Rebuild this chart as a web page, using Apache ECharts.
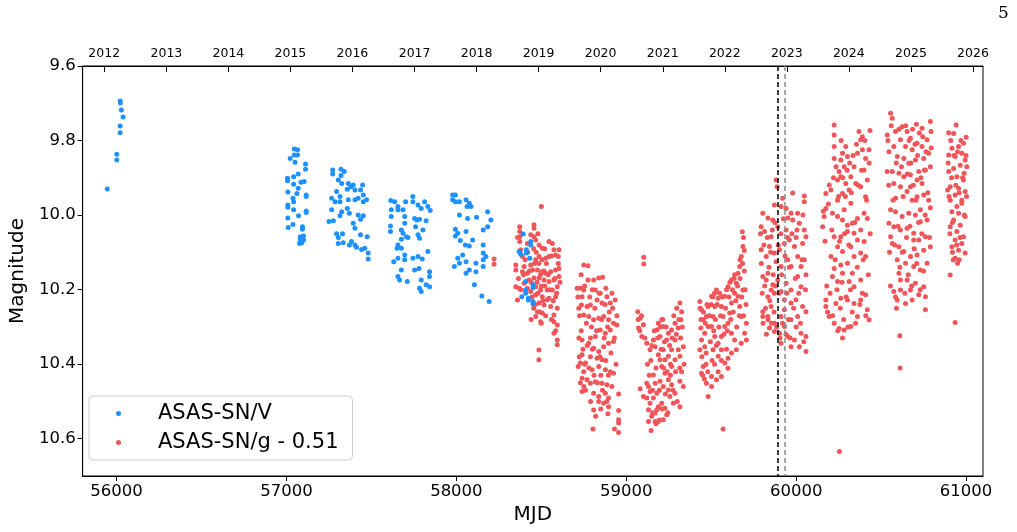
<!DOCTYPE html>
<html lang="en">
<head>
    <meta charset="UTF-8">
    <title>ASAS-SN light curve</title>
    <script type="text/javascript" src="https://cdn.jsdelivr.net/npm/echarts@6/dist/echarts.min.js"></script>
    <style>
        body { margin: 0; background: #fff; }
        #main { width: 1017px; height: 532px; }
    </style>
</head>
<body>
    <div id="main"></div>
</body>

<script type="text/javascript">
    // tick labels
    var mjdTicks = [56000, 57000, 58000, 59000, 60000, 61000];
    var magTicks = [9.6, 9.8, 10.0, 10.2, 10.4, 10.6];
    var yearLabels = ['2012', '2013', '2014', '2015', '2016', '2017', '2018', '2019', '2020', '2021', '2022', '2023', '2024', '2025', '2026'];
    var yearMjd = [55927, 56293, 56658, 57023, 57388, 57754, 58119, 58484, 58849, 59215, 59580, 59945, 60310, 60676, 61041];
    var eventLines = [59890, 59932];

    // ASAS-SN V band, one list per season  [MJD, mag]
    var vS2012 = [[55945,9.93],[56021,9.694],[56022,9.699],[56028,9.718],[56038,9.737],[56021,9.761],[56021,9.779],[56001,9.837],[56001,9.852]];
    var vS2015 = [[57046,9.823],[57065,9.825],[57046,9.839],[57065,9.839],[57022,9.848],[57050,9.858],[57112,9.863],[57112,9.877],[57006,9.901],[57006,9.908],[57042,9.897],[57069,9.89],[57085,9.912],[57104,9.91],[57042,9.917],[57069,9.928],[57061,9.942],[57116,9.946],[57116,9.95],[57008,9.938],[57038,9.955],[57042,9.964],[57008,9.973],[57008,9.979],[57042,9.986],[57071,10.002],[57116,9.989],[57116,9.993],[57008,10.008],[57038,10.025],[57094,10.031],[57094,10.038],[57010,10.033],[57081,10.058],[57100,10.056],[57081,10.067],[57100,10.067],[57077,10.076],[57090,10.074]];
    var vS2016 = [[57272,9.879],[57272,9.89],[57321,9.877],[57340,9.883],[57321,9.894],[57305,9.906],[57325,9.915],[57364,9.915],[57379,9.924],[57393,9.919],[57448,9.919],[57436,9.933],[57358,9.931],[57403,9.933],[57452,9.946],[57471,9.959],[57295,9.937],[57315,9.95],[57315,9.964],[57266,9.955],[57286,9.964],[57364,9.959],[57403,9.959],[57422,9.955],[57452,9.964],[57358,9.982],[57370,9.995],[57422,10.0],[57452,10.002],[57436,10.011],[57325,9.991],[57315,10.002],[57266,9.986],[57250,10.017],[57276,10.015],[57393,10.022],[57403,10.035],[57436,10.053],[57475,10.058],[57295,10.05],[57305,10.06],[57330,10.05],[57334,10.074],[57305,10.076],[57383,10.071],[57403,10.08],[57412,10.086],[57442,10.092],[57461,10.089],[57481,10.102],[57481,10.118],[57370,10.08]];
    var vS2017 = [[57614,9.961],[57637,9.964],[57656,9.977],[57656,9.986],[57701,9.964],[57744,9.95],[57744,9.964],[57774,9.973],[57793,9.982],[57813,9.964],[57832,9.977],[57846,9.988],[57617,9.986],[57617,10.004],[57612,10.029],[57612,10.044],[57686,9.986],[57696,10.004],[57696,10.022],[57676,10.04],[57686,10.049],[57676,10.065],[57705,10.058],[57715,10.06],[57754,10.009],[57768,10.013],[57783,10.011],[57822,10.015],[57760,10.031],[57803,10.04],[57774,10.053],[57783,10.062],[57656,10.08],[57676,10.089],[57651,10.089],[57631,10.125],[57656,10.116],[57696,10.107],[57696,10.12],[57744,10.116],[57774,10.111],[57832,10.098],[57799,10.118],[57780,10.143],[57754,10.147],[57676,10.147],[57656,10.165],[57666,10.174],[57711,10.178],[57793,10.174],[57842,10.152],[57842,10.165],[57822,10.187],[57842,10.192],[57783,10.196],[57793,10.205]];
    var vS2018 = [[57978,9.946],[57994,9.946],[57978,9.959],[57994,9.964],[58018,9.964],[58057,9.959],[58076,9.968],[58086,9.977],[58063,9.977],[58018,10.0],[58066,10.009],[58119,10.006],[58184,9.991],[58203,10.013],[58184,10.031],[58158,10.04],[57994,10.038],[58008,10.049],[57994,10.056],[58057,10.044],[58096,10.067],[58023,10.068],[58053,10.08],[58076,10.083],[58008,10.116],[58037,10.107],[58018,10.129],[57988,10.138],[58057,10.125],[58057,10.156],[58076,10.147],[58115,10.129],[58115,10.152],[58158,10.08],[58158,10.102],[58158,10.12],[58174,10.111],[58158,10.138],[58106,10.187],[58150,10.217],[58193,10.232]];
    var vS2019 = [[58393,10.051],[58369,10.098],[58379,10.105],[58412,10.093],[58412,10.102],[58438,10.071],[58438,10.08],[58432,10.116],[58408,10.178],[58451,10.187],[58451,10.194],[58408,10.201],[58408,10.21],[58385,10.219],[58424,10.223],[58424,10.228],[58451,10.232],[58451,10.238]];

    // ASAS-SN g band shifted by -0.51, one list per season  [MJD, mag]
    var gS2018 = [[58222,10.118],[58222,10.132]];
    var gS2019 = [[58373,10.031],[58373,10.044],[58373,10.058],[58373,10.071],[58457,10.026],[58457,10.035],[58438,10.053],[58457,10.058],[58467,10.067],[58418,10.076],[58487,10.08],[58506,10.089],[58545,10.071],[58565,10.076],[58574,10.093],[58604,10.093],[58600,10.111],[58584,10.107],[58545,10.111],[58526,10.116],[58487,10.111],[58467,10.12],[58438,10.134],[58399,10.138],[58350,10.134],[58350,10.147],[58389,10.152],[58418,10.156],[58448,10.147],[58477,10.147],[58502,10.152],[58526,10.156],[58555,10.152],[58584,10.147],[58604,10.143],[58604,10.165],[58574,10.174],[58545,10.178],[58516,10.174],[58487,10.169],[58457,10.169],[58428,10.174],[58399,10.183],[58350,10.192],[58370,10.196],[58418,10.196],[58467,10.192],[58496,10.201],[58535,10.201],[58565,10.201],[58594,10.192],[58584,10.219],[58545,10.223],[58506,10.219],[58467,10.214],[58438,10.205],[58360,10.228],[58487,10.236],[58516,10.241],[58555,10.245],[58594,10.25],[58477,10.259],[58506,10.263],[58467,10.272],[58496,10.286],[58574,10.268],[58574,10.286],[58594,10.295],[58574,10.317],[58594,10.335],[58594,10.348],[58535,10.227],[58389,10.111],[58379,10.093],[58500,9.977],[58486,10.362],[58486,10.388],
        [58360,10.06],[58365,10.17],[58380,10.20],[58395,10.16],[58405,10.12],[58420,10.10],[58430,10.15],[58440,10.18],[58445,10.22],[58455,10.09],[58460,10.13],[58465,10.24],[58470,10.10],[58475,10.18],[58480,10.21],[58485,10.13],[58490,10.26],[58495,10.16],[58500,10.19],[58505,10.12],[58510,10.23],[58515,10.15],[58520,10.19],[58525,10.27],[58530,10.13],[58540,10.16],[58550,10.20],[58560,10.11],[58570,10.23],[58580,10.17],[58590,10.21],[58600,10.13],[58610,10.18],[58520,10.09],[58480,10.05],[58455,10.25],[58440,10.28],[58500,10.29],[58560,10.28],[58585,10.31]];
    var gS2020 = [[58750,10.134],[58775,10.136],[58734,10.16],[58711,10.196],[58730,10.196],[58750,10.201],[58740,10.219],[58775,10.174],[58808,10.174],[58838,10.169],[58861,10.167],[58880,10.196],[58818,10.201],[58847,10.21],[58886,10.219],[58916,10.21],[58935,10.228],[58906,10.236],[58857,10.236],[58828,10.228],[58789,10.241],[58769,10.245],[58736,10.241],[58721,10.25],[58750,10.268],[58779,10.272],[58808,10.281],[58838,10.277],[58867,10.272],[58896,10.281],[58925,10.29],[58945,10.295],[58906,10.308],[58877,10.317],[58847,10.308],[58818,10.326],[58789,10.33],[58740,10.335],[58721,10.33],[58779,10.344],[58808,10.357],[58838,10.366],[58867,10.353],[58896,10.344],[58925,10.339],[58857,10.388],[58828,10.384],[58789,10.38],[58740,10.375],[58730,10.397],[58760,10.397],[58799,10.415],[58838,10.406],[58877,10.415],[58906,10.42],[58925,10.424],[58750,10.42],[58740,10.438],[58769,10.442],[58750,10.46],[58740,10.473],[58789,10.451],[58818,10.447],[58857,10.451],[58886,10.455],[58808,10.478],[58838,10.487],[58877,10.478],[58896,10.491],[58838,10.5],[58867,10.505],[58896,10.514],[58808,10.523],[58892,10.533],[58955,10.48],[58955,10.524],[58955,10.549],[58955,10.558],[58931,10.574],[58955,10.583],[58804,10.574],[58724,10.38],[58717,10.406],
        [58715,10.22],[58725,10.27],[58735,10.31],[58745,10.36],[58755,10.40],[58765,10.29],[58770,10.35],[58780,10.41],[58785,10.22],[58795,10.30],[58800,10.36],[58810,10.43],[58815,10.25],[58825,10.31],[58830,10.45],[58840,10.21],[58845,10.38],[58850,10.43],[58855,10.28],[58860,10.47],[58870,10.33],[58875,10.24],[58880,10.39],[58885,10.50],[58890,10.30],[58895,10.43],[58900,10.26],[58910,10.37],[58915,10.46],[58920,10.25],[58930,10.33],[58940,10.40],[58945,10.27],[58760,10.47],[58790,10.50],[58820,10.54],[58850,10.52],[58730,10.45],[58755,10.19],[58800,10.20]];
    var gS2021 = [[59103,10.113],[59103,10.131],[59068,10.259],[59082,10.277],[59072,10.303],[59101,10.294],[59092,10.326],[59121,10.344],[59140,10.361],[59160,10.335],[59180,10.308],[59189,10.29],[59209,10.281],[59218,10.299],[59199,10.326],[59170,10.353],[59189,10.375],[59218,10.361],[59238,10.335],[59248,10.317],[59267,10.308],[59287,10.29],[59297,10.25],[59316,10.236],[59326,10.259],[59322,10.281],[59306,10.303],[59287,10.335],[59267,10.361],[59248,10.379],[59228,10.388],[59209,10.406],[59228,10.424],[59248,10.442],[59218,10.46],[59199,10.446],[59180,10.478],[59160,10.491],[59140,10.505],[59131,10.522],[59150,10.54],[59170,10.531],[59189,10.514],[59209,10.505],[59228,10.518],[59238,10.536],[59218,10.549],[59189,10.554],[59170,10.554],[59131,10.554],[59146,10.578],[59082,10.466],[59121,10.451],[59170,10.451],[59267,10.455],[59287,10.478],[59316,10.446],[59336,10.46],[59316,10.514],[59277,10.505],[59257,10.487],[59248,10.469],[59326,10.42],[59287,10.388],[59316,10.379],[59336,10.353],[59306,10.361],[59267,10.406],[59199,10.388],[59160,10.429],[59131,10.46],[59101,10.487],[59121,10.491],[59180,10.522],[59140,10.473],
        [59070,10.28],[59080,10.31],[59090,10.27],[59110,10.33],[59125,10.40],[59135,10.43],[59145,10.39],[59150,10.35],[59155,10.47],[59165,10.31],[59175,10.41],[59185,10.33],[59195,10.47],[59200,10.30],[59205,10.36],[59210,10.52],[59215,10.28],[59220,10.41],[59225,10.34],[59230,10.48],[59235,10.30],[59240,10.42],[59245,10.53],[59255,10.35],[59260,10.43],[59270,10.33],[59275,10.47],[59280,10.27],[59290,10.42],[59295,10.32],[59300,10.50],[59310,10.28],[59315,10.41],[59320,10.33],[59330,10.30],[59340,10.40],[59155,10.53],[59175,10.56],[59195,10.55],[59260,10.40]];
    var gS2022 = [[59433,10.232],[59443,10.254],[59453,10.281],[59439,10.303],[59462,10.317],[59482,10.299],[59472,10.272],[59482,10.245],[59502,10.218],[59531,10.201],[59541,10.223],[59521,10.245],[59511,10.272],[59502,10.299],[59521,10.326],[59541,10.344],[59560,10.326],[59580,10.299],[59570,10.272],[59560,10.245],[59580,10.218],[59599,10.192],[59619,10.174],[59638,10.16],[59658,10.156],[59668,10.138],[59677,10.111],[59687,10.084],[59648,10.183],[59638,10.21],[59619,10.236],[59609,10.263],[59599,10.29],[59619,10.317],[59638,10.335],[59648,10.361],[59677,10.344],[59697,10.317],[59707,10.29],[59707,10.335],[59677,10.272],[59668,10.245],[59658,10.218],[59687,10.201],[59560,10.361],[59541,10.379],[59580,10.397],[59599,10.411],[59560,10.433],[59531,10.442],[59502,10.46],[59472,10.451],[59443,10.424],[59453,10.406],[59482,10.487],[59502,10.433],[59541,10.42],[59619,10.37],[59599,10.384],[59462,10.353],[59511,10.361],[59433,10.361],[59443,10.335],[59570,10.574],[59683,10.045],[59690,10.06],[59695,10.095],
        [59435,10.25],[59440,10.28],[59445,10.38],[59450,10.43],[59455,10.26],[59460,10.44],[59465,10.29],[59470,10.37],[59475,10.24],[59480,10.42],[59490,10.27],[59495,10.34],[59500,10.24],[59505,10.39],[59510,10.22],[59515,10.31],[59520,10.21],[59525,10.28],[59530,10.35],[59535,10.24],[59545,10.30],[59550,10.21],[59555,10.27],[59565,10.22],[59575,10.32],[59585,10.25],[59590,10.20],[59595,10.31],[59605,10.22],[59610,10.18],[59615,10.28],[59625,10.20],[59630,10.26],[59635,10.17],[59645,10.23],[59650,10.30],[59655,10.19],[59665,10.27],[59670,10.17],[59680,10.22],[59685,10.13],[59690,10.27],[59700,10.20],[59705,10.24],[59695,10.15],[59670,10.12],[59470,10.40],[59520,10.40],[59560,10.39],[59590,10.36]];
    var gS2023 = [[59882,9.906],[59888,9.924],[59980,9.941],[60048,9.949],[60048,9.964],[59872,9.973],[59911,9.977],[59941,9.982],[59970,9.995],[60009,9.995],[59951,10.008],[59980,10.013],[60019,10.022],[60048,10.04],[60058,10.058],[60038,10.076],[59804,9.995],[59834,10.008],[59794,10.031],[59814,10.044],[59853,10.058],[59843,10.084],[59794,10.093],[59824,10.111],[59872,10.102],[59902,10.093],[59931,10.076],[59960,10.067],[59990,10.084],[60009,10.111],[60048,10.12],[60029,10.138],[60058,10.16],[60009,10.165],[59970,10.138],[59951,10.12],[59911,10.138],[59882,10.125],[59834,10.156],[59804,10.165],[59824,10.174],[59863,10.187],[59892,10.174],[59941,10.183],[59970,10.201],[60029,10.192],[59872,10.21],[59834,10.219],[59853,10.245],[59804,10.259],[59834,10.272],[59872,10.29],[59911,10.272],[59931,10.254],[59970,10.236],[59999,10.227],[60038,10.245],[60058,10.259],[60009,10.272],[59970,10.281],[59931,10.299],[59902,10.317],[59951,10.326],[59990,10.335],[60029,10.317],[60058,10.326],[60019,10.353],[60058,10.366],[59970,10.353],[59911,10.344],[59872,10.312],[59843,10.303],[59834,10.281],[59804,10.272],[59931,10.227],[59911,10.205],[59853,10.201],[59941,10.04],[59892,10.031],[59863,10.013],[59921,9.955],
        [59790,10.05],[59795,10.13],[59800,10.21],[59805,10.29],[59810,10.08],[59815,10.19],[59820,10.25],[59825,10.32],[59830,10.06],[59840,10.14],[59845,10.23],[59850,10.10],[59855,10.29],[59860,10.04],[59865,10.16],[59870,10.26],[59875,10.02],[59880,10.19],[59885,10.30],[59895,10.08],[59900,10.21],[59905,10.33],[59910,10.05],[59915,10.16],[59920,10.29],[59925,10.01],[59935,10.11],[59940,10.32],[59945,10.21],[59950,10.06],[59955,10.28],[59960,10.14],[59965,10.33],[59975,10.05],[59985,10.25],[59995,10.17],[60000,10.30],[60005,10.04],[60015,10.21],[60025,10.29],[60035,10.12],[60045,10.34],[60055,10.20],[60040,10.00],[60000,10.06]];
    var gS2024 = [[60224,9.758],[60224,9.785],[60224,9.816],[60224,9.848],[60273,9.834],[60302,9.843],[60283,9.87],[60253,9.883],[60244,9.906],[60263,9.897],[60292,9.915],[60322,9.897],[60341,9.87],[60361,9.834],[60380,9.798],[60390,9.825],[60370,9.776],[60435,9.773],[60429,9.825],[60409,9.848],[60400,9.879],[60419,9.906],[60380,9.924],[60351,9.915],[60312,9.933],[60273,9.942],[60244,9.96],[60205,9.933],[60175,9.942],[60165,10.004],[60175,9.982],[60214,9.995],[60244,10.004],[60273,10.013],[60302,10.027],[60331,10.022],[60361,10.009],[60400,9.995],[60419,10.009],[60380,10.04],[60341,10.049],[60302,10.044],[60263,10.058],[60224,10.058],[60205,10.111],[60244,10.085],[60273,10.098],[60322,10.085],[60361,10.067],[60400,10.071],[60380,10.102],[60341,10.111],[60302,10.129],[60263,10.134],[60224,10.143],[60214,10.165],[60244,10.178],[60273,10.156],[60312,10.178],[60341,10.192],[60380,10.174],[60409,10.214],[60380,10.228],[60341,10.237],[60302,10.228],[60263,10.223],[60234,10.237],[60175,10.228],[60175,10.245],[60195,10.272],[60224,10.29],[60253,10.304],[60283,10.308],[60322,10.299],[60361,10.272],[60419,10.254],[60429,10.281],[60273,10.33],[60390,10.21],[60331,10.156],[60283,9.986],[60322,9.968],[60195,9.919],[60156,10.031],[60409,9.951],[60409,10.111],[60390,9.79],[60263,9.852],[60292,9.816],[60255,10.634],
        [60160,9.99],[60170,10.07],[60180,10.19],[60185,10.26],[60190,9.97],[60200,10.21],[60210,10.04],[60215,10.27],[60220,9.90],[60230,10.12],[60235,9.87],[60240,10.20],[60245,10.31],[60250,9.95],[60255,10.07],[60260,10.25],[60265,9.80],[60270,10.18],[60275,9.90],[60280,10.28],[60285,10.05],[60290,9.95],[60295,10.22],[60300,9.88],[60305,10.30],[60310,10.08],[60315,9.86],[60320,10.20],[60325,9.94],[60330,10.26],[60335,9.84],[60345,10.02],[60350,10.29],[60355,9.81],[60360,10.14],[60365,9.92],[60375,10.24],[60385,9.88],[60395,10.12],[60405,9.80],[60410,10.27],[60415,9.96],[60425,10.16],[60430,9.86],[60436,10.05]];
    var gS2025 = [[60556,9.727],[60566,9.74],[60536,9.785],[60585,9.776],[60624,9.763],[60653,9.776],[60673,9.794],[60708,9.756],[60741,9.767],[60790,9.749],[60794,9.776],[60771,9.798],[60741,9.816],[60712,9.807],[60683,9.825],[60644,9.816],[60614,9.798],[60575,9.816],[60546,9.83],[60595,9.843],[60634,9.848],[60663,9.861],[60702,9.852],[60751,9.848],[60780,9.834],[60790,9.87],[60761,9.879],[60722,9.883],[60673,9.892],[60634,9.897],[60605,9.888],[60566,9.883],[60536,9.883],[60575,9.915],[60614,9.924],[60653,9.937],[60683,9.96],[60712,9.951],[60751,9.946],[60780,9.96],[60731,9.986],[60702,10.0],[60663,9.995],[60624,10.004],[60585,9.991],[60556,9.986],[60546,10.022],[60575,10.031],[60614,10.04],[60653,10.035],[60692,10.049],[60722,10.067],[60761,10.058],[60790,10.085],[60751,10.094],[60712,10.107],[60673,10.111],[60634,10.098],[60605,10.085],[60566,10.076],[60556,10.058],[60595,10.12],[60644,10.129],[60692,10.138],[60731,10.147],[60771,10.129],[60605,10.156],[60653,10.174],[60702,10.183],[60751,10.192],[60761,10.219],[60722,10.214],[60673,10.201],[60614,10.201],[60575,10.205],[60595,10.228],[60644,10.237],[60683,10.228],[60761,10.254],[60591,10.25],[60614,10.174],[60692,10.067],[60673,9.924],[60741,9.915],[60585,9.955],[60731,10.018],[60771,10.013],[60712,9.906],[60610,10.324],[60612,10.41],
        [60540,9.80],[60545,9.92],[60550,10.10],[60555,10.19],[60560,9.76],[60570,9.96],[60580,10.08],[60585,10.22],[60590,9.86],[60600,10.03],[60605,9.77],[60610,10.14],[60620,9.87],[60625,10.10],[60630,9.95],[60640,10.21],[60645,9.76],[60650,10.06],[60655,9.89],[60660,10.16],[60665,9.80],[60670,10.03],[60675,9.86],[60680,10.19],[60685,9.77],[60690,9.92],[60695,10.09],[60700,9.81],[60705,9.96],[60710,10.13],[60715,9.84],[60720,10.02],[60725,9.78],[60730,10.20],[60735,9.90],[60740,10.05],[60745,9.79],[60750,10.15],[60755,9.88],[60760,10.00],[60765,9.83],[60775,9.94],[60785,10.06],[60795,9.82],[60790,9.98]];
    var gS2026 = [[60898,9.779],[60942,9.758],[60927,9.781],[61001,9.791],[60985,9.807],[60956,9.816],[60917,9.821],[60898,9.839],[60936,9.843],[60975,9.834],[60995,9.852],[61005,9.87],[60966,9.866],[60927,9.875],[60898,9.883],[60946,9.897],[60985,9.906],[60907,9.924],[60956,9.928],[60995,9.937],[60936,9.946],[60907,9.96],[60975,9.96],[60946,9.977],[60917,9.991],[60956,9.995],[60995,10.004],[60927,10.013],[60966,10.027],[60907,10.031],[60946,10.044],[60985,10.058],[60936,10.067],[60975,10.076],[60917,10.085],[60956,10.094],[60995,10.102],[60936,10.116],[60950,10.129],[60907,10.161],[60975,9.968],[60892,9.933],[60989,9.888],[60936,10.288],
        [60895,9.86],[60900,9.95],[60905,10.05],[60910,9.80],[60915,9.90],[60920,10.02],[60925,10.12],[60930,9.84],[60940,9.92],[60945,10.08],[60950,9.83],[60960,9.94],[60965,10.06],[60970,9.80],[60980,9.90],[60990,10.00],[61000,9.84],[61003,9.95],[60960,10.12],[60920,10.10]];

    var vData = [].concat(vS2012, vS2015, vS2016, vS2017, vS2018, vS2019);
    var gData = [].concat(gS2018, gS2019, gS2020, gS2021, gS2022, gS2023, gS2024, gS2025, gS2026);

    var font = 'DejaVu Sans';
    var black = '#000';

    var myChart = echarts.init(document.getElementById('main'), null, {renderer: 'canvas'});

    var option = {
        animation: false,
        backgroundColor: '#fff',
        textStyle: { fontFamily: font, color: black },
        graphic: [
            {
                type: 'text', left: 998, top: 5,
                style: { text: '5', font: '17px "DejaVu Serif"', fill: black }
            }
        ],
        grid: {
            left: 78, right: 34, top: 66, bottom: 56,
            show: true, borderColor: black, borderWidth: 1, backgroundColor: 'transparent'
        },
        legend: {
            left: 89, top: 396,
            orient: 'vertical',
            data: ['ASAS-SN/V', 'ASAS-SN/g - 0.51'],
            icon: 'circle',
            itemWidth: 5, itemHeight: 5,
            itemGap: 8,
            padding: [7, 14, 7, 27],
            backgroundColor: 'rgba(255,255,255,0.8)',
            borderColor: '#cccccc', borderWidth: 1, borderRadius: 4,
            formatter: function (name) { return '{t|' + name + '}'; },
            textStyle: {
                rich: {
                    t: { fontFamily: font, fontSize: 21, color: black, lineHeight: 24, padding: [0, 0, 0, 32] }
                }
            }
        },
        xAxis: [
            {
                type: 'value', position: 'bottom', min: 55800, max: 61100,
                name: 'MJD', nameLocation: 'middle', nameGap: 27,
                nameTextStyle: { fontFamily: font, fontSize: 20, color: black },
                axisLine: { show: true, onZero: false, lineStyle: { color: black, width: 1 } },
                axisTick: { show: true, length: 5, customValues: mjdTicks, lineStyle: { color: black } },
                axisLabel: {
                    customValues: mjdTicks, fontFamily: font, fontSize: 16.5, color: black, margin: 7,
                    formatter: function (v) { return String(v); }
                },
                splitLine: { show: false }
            },
            {
                type: 'value', position: 'top', min: 55800, max: 61100,
                axisLine: { show: true, onZero: false, lineStyle: { color: black, width: 1 } },
                axisTick: { show: true, inside: true, length: 6, customValues: yearMjd, lineStyle: { color: black } },
                axisLabel: {
                    customValues: yearMjd, fontFamily: font, fontSize: 12.5, color: black, margin: 6,
                    formatter: function (v) {
                        var i = yearMjd.indexOf(v);
                        return i >= 0 ? yearLabels[i] : '';
                    }
                },
                splitLine: { show: false }
            }
        ],
        yAxis: {
            type: 'value', inverse: true, min: 9.6, max: 10.7,
            name: 'Magnitude', nameLocation: 'middle', nameGap: 52, nameRotate: 90,
            nameTextStyle: { fontFamily: font, fontSize: 20, color: black },
            axisLine: { show: true, onZero: false, lineStyle: { color: black, width: 1 } },
            axisTick: { show: true, length: 5, customValues: magTicks, lineStyle: { color: black } },
            axisLabel: {
                customValues: magTicks, fontFamily: font, fontSize: 16.5, color: black, margin: 7,
                formatter: function (v) { return v.toFixed(1); }
            },
            splitLine: { show: false }
        },
        series: [
            {
                name: 'ASAS-SN/g - 0.51',
                type: 'scatter',
                xAxisIndex: 0,
                symbolSize: 5,
                itemStyle: { color: '#ef5559', opacity: 1 },
                data: gData,
                markLine: {
                    silent: true,
                    symbol: ['none', 'none'],
                    label: { show: false },
                    lineStyle: { type: [5, 3], width: 1.5 },
                    data: [
                        { xAxis: eventLines[0], lineStyle: { color: '#000', type: [5, 3], width: 1.5 } },
                        { xAxis: eventLines[1], lineStyle: { color: '#8c8c8c', type: [5, 3], width: 1.5 } }
                    ]
                }
            },
            {
                name: 'ASAS-SN/V',
                type: 'scatter',
                xAxisIndex: 0,
                symbolSize: 5,
                itemStyle: { color: '#1e90ff', opacity: 1 },
                data: vData
            }
        ]
    };

    myChart.setOption(option);
</script>
</html>
